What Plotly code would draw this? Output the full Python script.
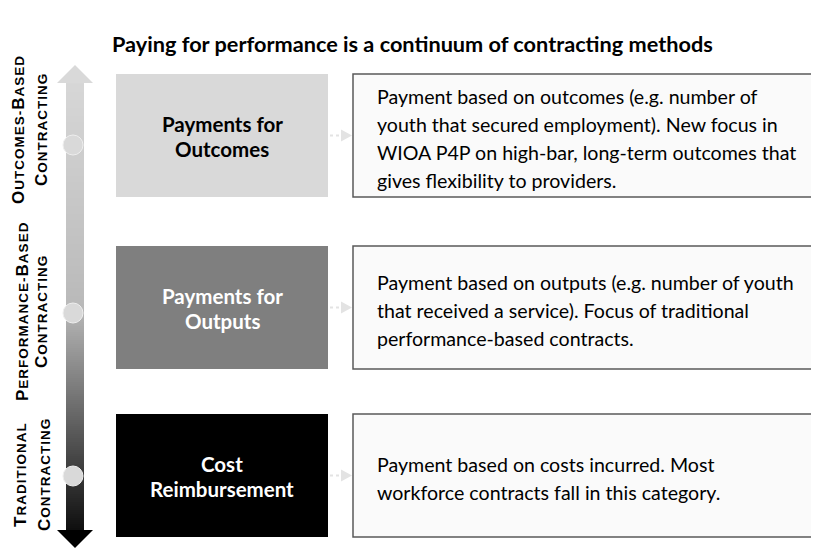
import plotly.graph_objects as go

# ---------------- data ----------------
title_text = "Paying for performance is a continuum of contracting methods"
box_labels = [["Payments for", "Outcomes"], ["Payments for", "Outputs"], ["Cost", "Reimbursement"]]
box_fills = ["#d9d9d9", "#7f7f7f", "#000000"]
box_text_colors = ["#000000", "#ffffff", "#ffffff"]
descriptions = [
    ["Payment based on outcomes (e.g. number of",
     "youth that secured employment). New focus in",
     "WIOA P4P on high-bar, long-term outcomes that",
     "gives flexibility to providers."],
    ["Payment based on outputs (e.g. number of youth",
     "that received a service). Focus of traditional",
     "performance-based contracts."],
    ["Payment based on costs incurred. Most",
     "workforce contracts fall in this category."],
]
side_line1 = [("O", "UTCOMES-", "B", "ASED"), ("P", "ERFORMANCE-", "B", "ASED"), ("T", "RADITIONAL", "", "")]
side_line2 = ("C", "ONTRACTING")

# ---------------- layout geometry ----------------
W, H = 819, 549
OFF = 8  # page body margin compensation
rows_top = [74, 246, 414]
rows_bot = [197, 369, 537]
left_x0, left_x1 = 116, 328
right_x0, right_x1 = 353, 816
text_x = 375
circle_y = [145, 313, 476]
side_y = [130, 312, 475]
side_x1 = [18, 22, 20]
side_x2 = [41, 41, 44]

shaft_x0, shaft_x1 = 66, 84
top_tip, top_base = 65, 83
bot_base, bot_tip = 530, 548
head_x0, head_x1 = 57, 93

BIG, SMALL = 17, 13.5
FONT = "Lato"

shapes = []
annotations = []

def grad(t):
    if t <= 0.5:
        v = 217 + (185 - 217) * (t / 0.5)
    else:
        v = 185 * (1 - (t - 0.5) / 0.5)
    v = int(round(max(0, min(255, v))))
    return f"rgb({v},{v},{v})"

step = 2
y = top_base - 1
while y < bot_base + 1:
    t = (y - top_tip) / (bot_tip - top_tip)
    shapes.append(dict(type="rect", xref="x", yref="y", x0=shaft_x0, x1=shaft_x1,
                       y0=y, y1=y + step + 0.5, fillcolor=grad(t), line=dict(width=0), layer="below"))
    y += step

shapes.append(dict(type="path", xref="x", yref="y",
                   path=f"M{head_x0},{top_base} L{(head_x0+head_x1)/2},{top_tip} L{head_x1},{top_base} Z",
                   fillcolor="#d9d9d9", line=dict(width=0)))
shapes.append(dict(type="path", xref="x", yref="y",
                   path=f"M{head_x0},{bot_base} L{(head_x0+head_x1)/2},{bot_tip} L{head_x1},{bot_base} Z",
                   fillcolor="#000000", line=dict(width=0)))

for cy in circle_y:
    shapes.append(dict(type="circle", xref="x", yref="y", x0=63, x1=83, y0=cy - 10, y1=cy + 10,
                       fillcolor="#d9d9d9", line=dict(color="#eeeeee", width=1)))

for i in range(3):
    y0, y1 = rows_top[i], rows_bot[i]
    cy = (y0 + y1) / 2
    shapes.append(dict(type="rect", xref="x", yref="y", x0=left_x0, x1=left_x1, y0=y0, y1=y1,
                       fillcolor=box_fills[i], line=dict(width=0)))
    shapes.append(dict(type="rect", xref="x", yref="y", x0=right_x0, x1=right_x1, y0=y0, y1=y1,
                       fillcolor="#fafafa", line=dict(color="#595959", width=1.5)))
    shapes.append(dict(type="line", xref="x", yref="y", x0=330, x1=341, y0=cy, y1=cy,
                       line=dict(color="#e3e3e3", width=2, dash="dot")))
    shapes.append(dict(type="path", xref="x", yref="y",
                       path=f"M341,{cy-6} L352,{cy} L341,{cy+6} Z",
                       fillcolor="#e3e3e3", line=dict(width=0)))
    n = len(box_labels[i])
    for j, line in enumerate(box_labels[i]):
        annotations.append(dict(x=(left_x0 + left_x1) / 2, y=cy + 1 + (j - (n - 1) / 2) * 25,
                                xref="x", yref="y", text=f"<b>{line}</b>", showarrow=False,
                                xanchor="center", yanchor="middle",
                                font=dict(family=FONT, size=20.5, color=box_text_colors[i])))
    n = len(descriptions[i])
    for j, line in enumerate(descriptions[i]):
        annotations.append(dict(x=text_x, y=cy + 3 + (j - (n - 1) / 2) * 28,
                                xref="x", yref="y", text=line, showarrow=False,
                                xanchor="left", yanchor="middle",
                                font=dict(family=FONT, size=19.6, color="#000000")))

def smallcaps(parts):
    out = ""
    for k, p in enumerate(parts):
        if not p:
            continue
        size = BIG if k % 2 == 0 else SMALL
        out += f'<span style="font-size:{size}px;letter-spacing:1px">{p}</span>'
    return "<b>" + out + "</b>"

for i in range(3):
    annotations.append(dict(x=side_x1[i], y=side_y[i], xref="x", yref="y",
                            text=smallcaps(side_line1[i]), showarrow=False, textangle=-90,
                            xanchor="center", yanchor="middle",
                            font=dict(family="Liberation Sans", size=SMALL, color="#000000")))
    annotations.append(dict(x=side_x2[i], y=side_y[i], xref="x", yref="y",
                            text=smallcaps(side_line2), showarrow=False, textangle=-90,
                            xanchor="center", yanchor="middle",
                            font=dict(family="Liberation Sans", size=SMALL, color="#000000")))

annotations.append(dict(x=412, y=44, xref="x", yref="y", text=f"<b>{title_text}</b>",
                        showarrow=False, xanchor="center", yanchor="middle",
                        font=dict(family=FONT, size=21.7, color="#000000")))

fig = go.Figure()
fig.update_layout(
    width=W, height=H, margin=dict(l=0, r=0, t=0, b=0),
    paper_bgcolor="white", plot_bgcolor="white",
    xaxis=dict(range=[OFF, W + OFF], visible=False, fixedrange=True),
    yaxis=dict(range=[H + OFF, OFF], visible=False, fixedrange=True),
    shapes=shapes, annotations=annotations, showlegend=False,
)
fig.write_html("out.html")
